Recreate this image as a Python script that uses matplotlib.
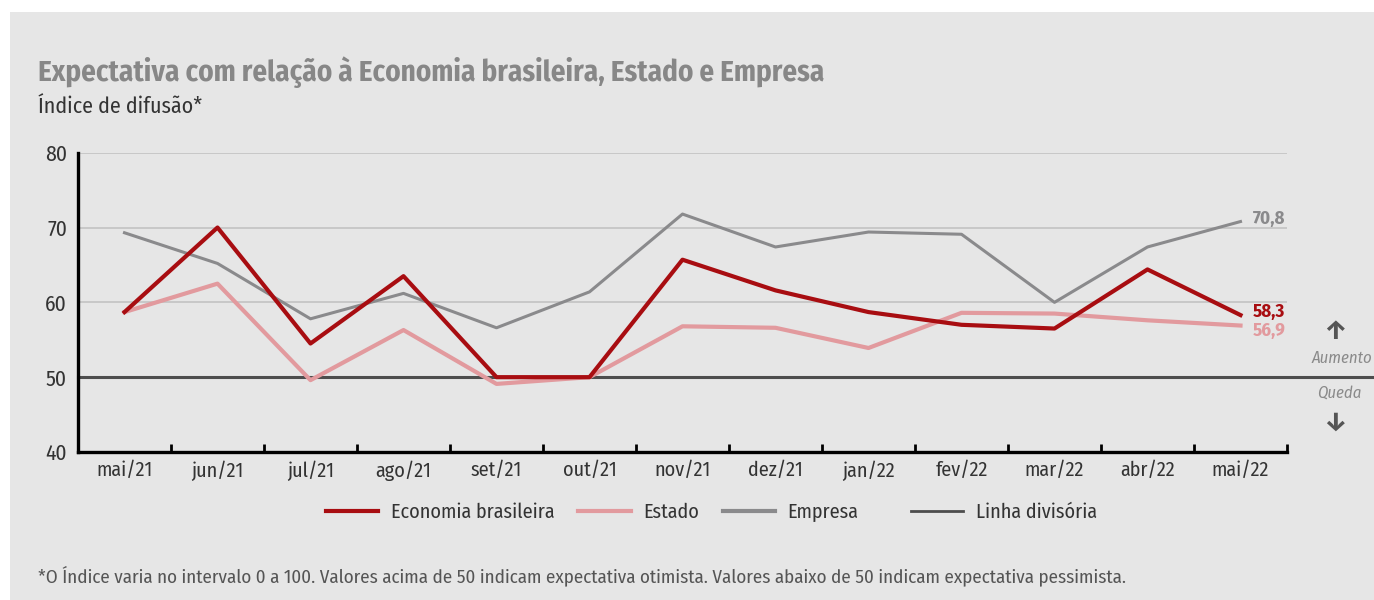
import matplotlib
matplotlib.use('Agg')
import matplotlib.pyplot as plt
from matplotlib.patches import Rectangle
from matplotlib.lines import Line2D

# dados
meses = ['mai/21', 'jun/21', 'jul/21', 'ago/21', 'set/21', 'out/21', 'nov/21',
         'dez/21', 'jan/22', 'fev/22', 'mar/22', 'abr/22', 'mai/22']
economia = [58.7, 70.0, 54.5, 63.5, 50.0, 50.0, 65.7, 61.6, 58.7, 57.0, 56.5, 64.4, 58.3]
estado = [58.7, 62.5, 49.6, 56.3, 49.1, 50.0, 56.8, 56.6, 53.9, 58.6, 58.5, 57.6, 56.9]
empresa = [69.3, 65.2, 57.8, 61.2, 56.6, 61.4, 71.8, 67.4, 69.4, 69.1, 60.0, 67.4, 70.8]
linha_divisoria = 50
yticks = [40, 50, 60, 70, 80]

c_eco = '#a80d11'
c_est = '#e29a9e'
c_emp = '#8a8a8c'
c_div = '#4d4d4d'
bg = '#e6e6e6'

plt.rcParams['font.family'] = ['Fira Sans Condensed', 'DejaVu Sans']

fig = plt.figure(figsize=(13.74, 6.0), dpi=100, facecolor='white')
fig.patches.append(Rectangle((10 / 1374, 0), 1, 1 - 12 / 600, transform=fig.transFigure,
                             facecolor=bg, edgecolor='none', zorder=-10))

ax = fig.add_axes([78 / 1374, 1 - 452 / 600, (1287 - 78) / 1374, (452 - 152.7) / 600])
ax.set_facecolor(bg)
ax.patch.set_alpha(0)

x = list(range(len(meses)))

# grade
for v in yticks[2:]:
    ax.axhline(v, color='#c2c2c2', lw=1.2, zorder=1)
ax.plot([-0.5, 13.55], [linha_divisoria] * 2, color=c_div, lw=2.2, clip_on=False, zorder=2)

ax.plot(x, empresa, color=c_emp, lw=2.2, zorder=3)
ax.plot(x, estado, color=c_est, lw=3, zorder=4)
ax.plot(x, economia, color=c_eco, lw=3, zorder=5)

ax.set_xlim(-0.5, 12.5)
ax.set_ylim(40, 80)
ax.set_yticks(yticks)
ax.set_xticks([i + 0.5 for i in x])
ax.set_xticklabels([])
ax.set_xticks(x, minor=True)
ax.set_xticklabels(meses, minor=True)
ax.tick_params(axis='x', which='major', direction='in', length=6, width=2, color='black')
ax.tick_params(axis='x', which='minor', length=0, labelsize=14.5, labelcolor='#333333', pad=6)
ax.tick_params(axis='y', length=0, labelsize=15.5, labelcolor='#333333', pad=8)
for s in ['top', 'right']:
    ax.spines[s].set_visible(False)
for s in ['left', 'bottom']:
    ax.spines[s].set_linewidth(2.4)
    ax.spines[s].set_color('black')

# rótulos finais
ax.text(12.13, empresa[-1] + 0.3, '70,8', color=c_emp, fontsize=13.5, fontweight='bold', va='center')
ax.text(12.13, economia[-1] + 0.4, '58,3', color=c_eco, fontsize=13.5, fontweight='bold', va='center')
ax.text(12.13, estado[-1] - 0.75, '56,9', color=c_est, fontsize=13.5, fontweight='bold', va='center')

# aumento / queda
fig.text(1335 / 1374, 1 - 331 / 600, '↑', color='#555555', fontsize=19, fontweight='bold',
         ha='center', va='center')
fig.text(1372 / 1374, 1 - 358 / 600, 'Aumento', color='#8a8a8a', fontsize=12,
         style='italic', ha='right', va='center')
fig.text(1317 / 1374, 1 - 393 / 600, 'Queda', color='#8a8a8a', fontsize=12,
         style='italic', ha='left', va='center')
fig.text(1335 / 1374, 1 - 422 / 600, '↓', color='#555555', fontsize=19, fontweight='bold',
         ha='center', va='center')

# títulos
fig.text(38 / 1374, 1 - 72 / 600, 'Expectativa com relação à Economia brasileira, Estado e Empresa',
         color='#878787', fontsize=20.9, fontweight='bold', va='center')
fig.text(38 / 1374, 1 - 107 / 600, 'Índice de difusão*', color='#333333', fontsize=15.8, va='center')

# legenda
handles = [Line2D([], [], color=c_eco, lw=3),
           Line2D([], [], color=c_est, lw=3),
           Line2D([], [], color=c_emp, lw=3)]
labels = ['Economia brasileira', 'Estado', 'Empresa']
fig.legend(handles, labels, loc='center left', bbox_to_anchor=(308 / 1374, 1 - 512 / 600),
           ncol=3, frameon=False, fontsize=14.5, handlelength=2.6, columnspacing=1.2,
           handletextpad=0.6, labelcolor='#333333')
fig.legend([Line2D([], [], color=c_div, lw=2)], ['Linha divisória'], loc='center left',
           bbox_to_anchor=(893 / 1374, 1 - 512 / 600), frameon=False, fontsize=14.5,
           handlelength=2.6, handletextpad=0.6, labelcolor='#333333')

fig.text(38 / 1374, 1 - 576 / 600,
         '*O Índice varia no intervalo 0 a 100. Valores acima de 50 indicam expectativa otimista. '
         'Valores abaixo de 50 indicam expectativa pessimista.',
         color='#555555', fontsize=13.7, va='center')

fig.savefig('out.png', dpi=100, facecolor=fig.get_facecolor())
